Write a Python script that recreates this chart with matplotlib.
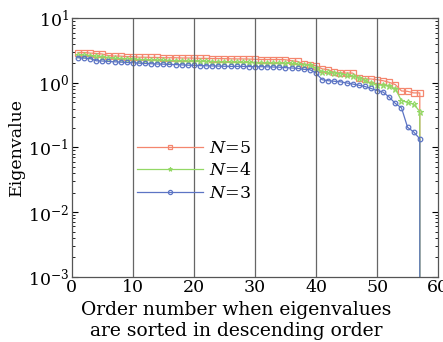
import numpy as np
import matplotlib
matplotlib.use("Agg")
import matplotlib.pyplot as plt
from matplotlib.ticker import LogLocator, NullFormatter

# eigenvalues sorted in descending order (last one is ~0)
n5 = [2.95, 2.95, 2.9, 2.85, 2.8,
      2.65, 2.6, 2.6, 2.55, 2.55,
      2.5, 2.5, 2.48, 2.48, 2.45, 2.45, 2.45, 2.43, 2.43, 2.42,
      2.4, 2.4, 2.38, 2.38, 2.37, 2.36, 2.35, 2.35, 2.34, 2.32,
      2.3, 2.3, 2.3, 2.3, 2.28, 2.2,
      2.15, 1.95, 1.92, 1.85,
      1.65, 1.6, 1.45, 1.43, 1.42, 1.42,
      1.2, 1.15, 1.15, 1.12, 1.08, 1.02, 0.94,
      0.75, 0.74, 0.70, 0.70, 1e-16]
n4 = [2.7, 2.7, 2.65, 2.6, 2.55,
      2.45, 2.4, 2.38, 2.35, 2.33,
      2.3, 2.28, 2.26, 2.25, 2.23, 2.22, 2.2, 2.2, 2.18, 2.17,
      2.16, 2.15, 2.14, 2.13, 2.12, 2.1, 2.1, 2.08, 2.07, 2.06,
      2.05, 2.05, 2.04, 2.03, 2.02, 2.0,
      1.95, 1.9, 1.88, 1.7,
      1.5, 1.45, 1.42, 1.38, 1.33, 1.28,
      1.2, 1.1, 0.98, 0.94, 0.92, 0.89, 0.81,
      0.53, 0.5, 0.47, 0.36, 1e-16]
n3 = [2.45, 2.42, 2.38, 2.2, 2.18,
      2.15, 2.12, 2.1, 2.07, 2.05,
      2.02, 2.0, 1.98, 1.96, 1.95, 1.93, 1.92, 1.9, 1.88, 1.87,
      1.85, 1.84, 1.83, 1.82, 1.81, 1.8, 1.8, 1.8, 1.79, 1.78,
      1.78, 1.77, 1.76, 1.75, 1.72, 1.7,
      1.68, 1.62, 1.6, 1.42,
      1.12, 1.08, 1.06, 1.04, 1.0, 0.96,
      0.92, 0.88, 0.82, 0.76, 0.72, 0.6, 0.48,
      0.41, 0.205, 0.174, 0.136, 1e-16]
order = np.arange(1, len(n5) + 1)
order[-1] = order[-2]  # drop to ~0 drawn straight down

plt.rcParams['font.family'] = ['DejaVu Serif']
plt.rcParams['mathtext.fontset'] = 'dejavuserif'

fig = plt.figure(figsize=(4.43, 3.42), dpi=100)
ax = fig.add_axes([0.162, 0.191, 0.827, 0.7555])

ax.plot(order, n5, color='#f4866e', lw=0.9, marker='s', ms=3.8, mfc='none',
        mew=0.9, label='$N$=5')
ax.plot(order, n4, color='#93d865', lw=0.9, marker='*', ms=5, mfc='none',
        mew=0.8, label='$N$=4')
ax.plot(order, n3, color='#5c74c4', lw=0.9, marker='o', ms=3.3, mfc='none',
        mew=0.9, label='$N$=3')

ax.set_yscale('log')
ax.set_xlim(0, 60)
ax.set_ylim(1e-3, 1e1)
ax.set_xticks([0, 10, 20, 30, 40, 50, 60])
ax.yaxis.set_minor_locator(LogLocator(base=10, subs=np.arange(2, 10)))
ax.yaxis.set_minor_formatter(NullFormatter())
ax.tick_params(axis='both', which='both', direction='in', right=True,
               labelsize=12.5, pad=2)
ax.tick_params(axis='x', length=0)
ax.tick_params(axis='y', which='major', length=4)
ax.tick_params(axis='y', which='minor', length=2)
for x in [10, 20, 30, 40, 50]:
    ax.axvline(x, color='#666666', lw=0.9)
for s in ax.spines.values():
    s.set_color('#555555')
    s.set_linewidth(0.9)

ax.set_xlabel('Order number when eigenvalues\nare sorted in descending order',
              fontsize=13.5, linespacing=1.25, labelpad=1)
ax.xaxis.set_label_coords(0.449, -0.093, transform=ax.transAxes)
ax.xaxis.label.set_verticalalignment('top')
ax.set_ylabel('Eigenvalue', fontsize=12.5, labelpad=2)

leg = ax.legend(loc='upper left', bbox_to_anchor=(0.16, 0.555), frameon=False,
                numpoints=1, handlelength=3.8, handletextpad=0.3,
                labelspacing=0.3, fontsize=12.5, borderaxespad=0)
for h in leg.legend_handles:
    h.set_markersize(3)

fig.savefig('out.png', dpi=100)
